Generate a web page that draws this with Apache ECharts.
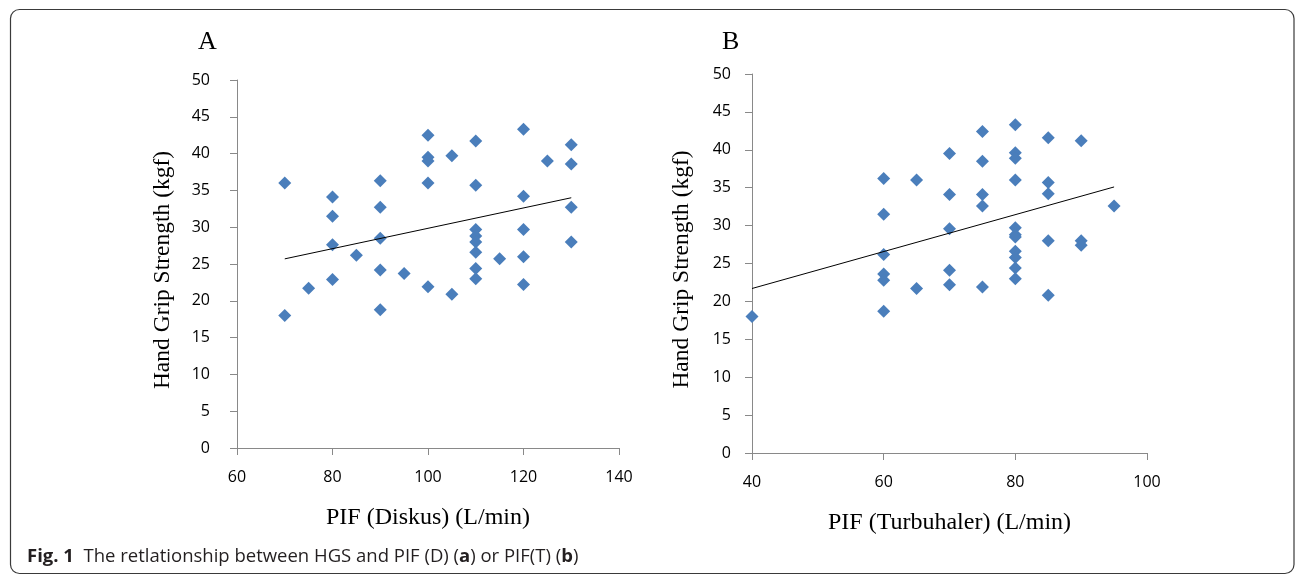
<!DOCTYPE html>
<html>
<head>
<meta charset="utf-8">
<script src="https://cdn.jsdelivr.net/npm/echarts@6/dist/echarts.min.js"></script>
<style>
  html, body { margin: 0; padding: 0; background: #fff; }
  #chart { width: 1296px; height: 575px; }
</style>
</head>
<body>
<div id="chart"></div>
<script>
// panel A: PIF (Diskus) vs HGS
var pifDiskus = [70, 70, 75, 80, 80, 80, 80, 85, 90, 90, 90, 90, 90, 95,
  100, 100, 100, 100, 100, 105, 105, 110, 110, 110, 110, 110, 110, 110, 110,
  115, 120, 120, 120, 120, 120, 125, 130, 130, 130, 130];
var hgsA = [36.0, 18.0, 21.7, 34.1, 31.5, 27.6, 22.9, 26.2, 36.3, 32.7, 28.5, 24.2, 18.8, 23.7,
  42.5, 39.5, 39.0, 36.0, 21.9, 39.7, 20.9, 41.7, 35.7, 29.7, 28.8, 28.0, 26.6, 24.4, 23.0,
  25.7, 43.3, 34.2, 29.7, 26.0, 22.2, 39.0, 41.2, 38.6, 32.7, 28.0];
// trend line end points as drawn in the figure
var trendAx = [70, 130];
var trendAy = [25.7, 34.0];

// panel B: PIF (Turbuhaler) vs HGS
var pifTurbu = [40, 60, 60, 60, 60, 60, 60, 65, 65, 70, 70, 70, 70, 70,
  75, 75, 75, 75, 75, 80, 80, 80, 80, 80, 80, 80, 80, 80, 80, 80,
  85, 85, 85, 85, 85, 90, 90, 90, 95];
var hgsB = [18.0, 36.2, 31.5, 26.2, 23.6, 22.8, 18.7, 36.0, 21.7, 39.5, 34.1, 29.6, 24.1, 22.2,
  42.4, 38.5, 34.1, 32.6, 21.9, 43.3, 39.6, 38.9, 36.0, 29.7, 28.8, 28.5, 26.6, 25.8, 24.4, 23.0,
  41.6, 35.7, 34.2, 28.0, 20.8, 41.2, 28.0, 27.4, 32.6];
var trendBx = [40, 95];
var trendBy = [21.7, 35.1];

function pairs(xs, ys) {
  return xs.map(function (x, i) { return [x, ys[i]]; });
}

var axisGray = '#898989';
var tickFont = { color: '#000', fontFamily: 'Open Sans', fontSize: 16 };

function xAxisOf(idx, min, max, name) {
  return {
    type: 'value', gridIndex: idx, min: min, max: max, interval: 20,
    name: name, nameLocation: 'middle', nameGap: 58,
    nameTextStyle: { color: '#000', fontFamily: 'Liberation Serif', fontSize: 24 },
    axisLine: { show: true, onZero: false, lineStyle: { color: axisGray, width: 1 } },
    axisTick: { show: true, inside: false, length: 7, lineStyle: { color: axisGray } },
    axisLabel: Object.assign({ margin: 21 }, tickFont),
    splitLine: { show: false }
  };
}

function yAxisOf(idx, name, gap, margin) {
  return {
    type: 'value', gridIndex: idx, min: 0, max: 50, interval: 5,
    name: name, nameLocation: 'middle', nameGap: gap,
    nameTextStyle: { color: '#000', fontFamily: 'Liberation Serif', fontSize: 23.5, padding: [0, 12, 0, 0] },
    axisLine: { show: true, lineStyle: { color: axisGray, width: 1 } },
    axisTick: { show: true, inside: false, length: 7, lineStyle: { color: axisGray } },
    axisLabel: Object.assign({ margin: margin }, tickFont),
    splitLine: { show: false }
  };
}

var panelFont = { fontFamily: 'Liberation Serif', fontSize: 26, fontWeight: 'normal', color: '#000' };

var chart = echarts.init(document.getElementById('chart'));
var option = {
  animation: false,
  backgroundColor: '#fff',
  title: [
    { text: 'A', left: 198, top: 29, padding: 0, textStyle: panelFont },
    { text: 'B', left: 722, top: 29, padding: 0, textStyle: panelFont },
    {
      text: '{b|Fig. 1}  The retlationship between HGS and PIF (D) ({b|a}) or PIF(T) ({b|b})',
      left: 27, top: 547, padding: 0,
      textStyle: {
        fontFamily: 'Open Sans', fontSize: 18.5, fontWeight: 'normal', color: '#231f20',
        rich: { b: { fontFamily: 'Open Sans', fontSize: 18.5, fontWeight: 'bold', color: '#231f20' } }
      }
    }
  ],
  graphic: [
    {
      type: 'rect', silent: true, z: -1,
      shape: { x: 10.5, y: 9.5, width: 1283.5, height: 564, r: 9 },
      style: { fill: 'none', stroke: '#3a3a3a', lineWidth: 1.2 }
    }
  ],
  grid: [
    { left: 237, top: 80, width: 382, height: 368 },
    { left: 752, top: 74, width: 395, height: 379 }
  ],
  xAxis: [
    xAxisOf(0, 60, 140, 'PIF (Diskus) (L/min)'),
    xAxisOf(1, 40, 100, 'PIF (Turbuhaler) (L/min)')
  ],
  yAxis: [
    yAxisOf(0, 'Hand Grip Strength (kgf)', 62, 27),
    yAxisOf(1, 'Hand Grip Strength (kgf)', 58, 21)
  ],
  series: [
    {
      type: 'scatter', xAxisIndex: 0, yAxisIndex: 0,
      symbol: 'diamond', symbolSize: 13,
      itemStyle: { color: '#4a7ebb', opacity: 1 },
      data: pairs(pifDiskus, hgsA)
    },
    {
      type: 'line', xAxisIndex: 0, yAxisIndex: 0,
      showSymbol: false, symbol: 'none',
      lineStyle: { color: '#000', width: 1 },
      data: pairs(trendAx, trendAy)
    },
    {
      type: 'scatter', xAxisIndex: 1, yAxisIndex: 1,
      symbol: 'diamond', symbolSize: 13,
      itemStyle: { color: '#4a7ebb', opacity: 1 },
      data: pairs(pifTurbu, hgsB)
    },
    {
      type: 'line', xAxisIndex: 1, yAxisIndex: 1,
      showSymbol: false, symbol: 'none',
      lineStyle: { color: '#000', width: 1 },
      data: pairs(trendBx, trendBy)
    }
  ]
};
chart.setOption(option);
window.addEventListener('resize', function () { chart.resize(); });
</script>
</body>
</html>
